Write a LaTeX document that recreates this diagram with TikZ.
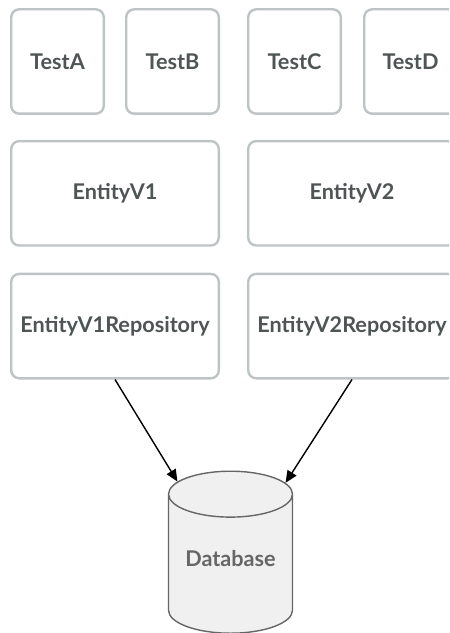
\documentclass[tikz,border=0pt]{standalone}
\usepackage{fontspec}
\setmainfont{Lato}
\usepackage{tikz}
\usetikzlibrary{arrows.meta,positioning,shapes.geometric,calc}
\definecolor{cline}{HTML}{BEC4C6}
\definecolor{ctext}{HTML}{4F5555}
\definecolor{cdb}{HTML}{F0F0F0}
\definecolor{cdbD}{HTML}{666666}
\tikzset{
  fbox/.style={draw=cline, line width=0.6mm, rounded corners=2mm, fill=white,
               align=center, text=ctext, minimum height=26.1mm,
               font=\fontsize{15.4}{18}\selectfont\bfseries},
  ntest/.style={fbox, minimum width=23.15mm},
  nwide/.style={fbox, minimum width=51.9mm},
  ndb/.style={cylinder, shape border rotate=90, aspect=0.46, draw=cdbD,
              line width=0.35mm, fill=cdb, text=cdbD, minimum width=31mm,
              minimum height=40.5mm,
              font=\fontsize{15.4}{18}\selectfont\bfseries},
  flow/.style={-{Triangle[length=3mm,width=2.6mm]}, line width=0.35mm},
}
\begin{document}
\begin{tikzpicture}
  \useasboundingbox (0,0) rectangle (112.25mm,-158.25mm);
  \clip (0,0) rectangle (112.25mm,-158.25mm);
  % tests
  \node[ntest] (tA) at (14.375mm,-15.375mm) {TestA};
  \node[ntest, right=5mm of tA] (tB) {TestB};
  \node[ntest, right=6.75mm of tB] (tC) {TestC};
  \node[ntest, right=5.25mm of tC] (tD) {TestD};
  % entities
  \node[nwide, below right=6.25mm and 0mm of tA.south west] (e1) {EntityV1};
  \node[nwide, right=6.75mm of e1] (e2) {EntityV2};
  % repositories
  \node[nwide, below=6.5mm of e1] (r1) {EntityV1Repository};
  \node[nwide, right=6.75mm of r1] (r2) {EntityV2Repository};
  % database
  \coordinate (mid) at ($(r1.south)!0.5!(r2.south)$);
  \node[ndb, below=22.75mm of mid, xshift=-0.75mm] (db) {\raisebox{5.1mm}{Database}};
  \draw[flow] (r1.south) -- (db);
  \draw[flow] (r2.south) -- (db);
\end{tikzpicture}
\end{document}
